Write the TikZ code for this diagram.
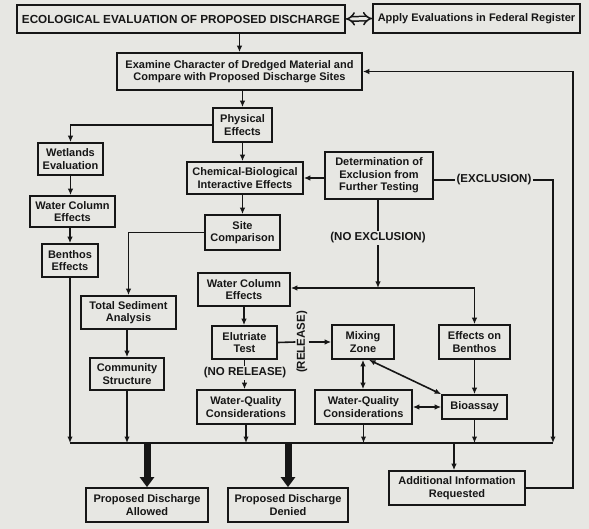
\documentclass[tikz,border=0pt]{standalone}
\usepackage{fontspec}
\setmainfont{Liberation Sans}
\usetikzlibrary{arrows.meta,calc}
\definecolor{bg}{HTML}{E7E7E3}
\definecolor{ink}{HTML}{161616}
\tikzset{
  box/.style={draw=ink, line width=1.7pt, inner sep=0pt, align=center,
    font=\fontsize{11}{12.5}\selectfont\bfseries, text=ink},
  lbl/.style={inner sep=1.5pt, font=\fontsize{11.5}{12}\selectfont\bfseries, text=ink},
  ln/.style={draw=ink, line width=1.6pt},
  arr/.style={ln, -{Latex[length=6.5pt,width=5.5pt]}},
  darr/.style={ln, {Latex[length=6.5pt,width=5.5pt]}-{Latex[length=6.5pt,width=5.5pt]}},
  thick arr/.style={draw=ink, line width=7pt, -{Triangle[length=10pt,width=14pt]}}
}
\newcommand{\bx}[6]{\node[box, minimum width=#4pt, minimum height=#5pt] (#1) at (#2,#3) {#6};}
\begin{document}
\begin{tikzpicture}[x=1pt,y=-1pt]
\fill[bg] (0,0) rectangle (589,529);
\useasboundingbox (0,0) rectangle (589,529);

\node[box, minimum width=328pt, minimum height=28pt, font=\fontsize{11.7}{13}\selectfont\bfseries] (eco) at (181,19) {ECOLOGICAL EVALUATION OF PROPOSED DISCHARGE};
\bx{apply}{476.5}{18.5}{207}{29}{Apply Evaluations in Federal Register}
\bx{exam}{239.5}{71.5}{245}{37}{Examine Character of Dredged Material and\\Compare with Proposed Discharge Sites}
\bx{phys}{242.5}{125}{59}{34}{Physical\\Effects}
\bx{wet}{70.5}{159}{65}{32}{Wetlands\\Evaluation}
\bx{wcl}{72.5}{211.5}{85}{31}{Water Column\\Effects}
\bx{ben}{70}{260.5}{56}{33}{Benthos\\Effects}
\bx{chem}{245}{178}{116}{32}{Chemical-Biological\\Interactive Effects}
\bx{det}{379}{175.5}{108}{47}{Determination of\\Exclusion from\\Further Testing}
\bx{site}{242.5}{232.5}{75}{35}{Site\\Comparison}
\bx{tsa}{128.5}{312.5}{95}{33}{Total Sediment\\Analysis}
\bx{com}{127}{374}{74}{32}{Community\\Structure}
\bx{wcm}{244}{289.5}{92}{33}{Water Column\\Effects}
\bx{elu}{244.5}{342.5}{65}{33}{Elutriate\\Test}
\bx{wqa}{246}{407}{98}{34}{Water-Quality\\Considerations}
\bx{mix}{363}{342}{62}{34}{Mixing\\Zone}
\bx{eob}{474.5}{342}{71}{34}{Effects on\\Benthos}
\bx{wqb}{363.5}{407}{97}{34}{Water-Quality\\Considerations}
\bx{bio}{474.5}{407}{65}{24}{Bioassay}
\bx{pda}{147}{505}{122}{34}{Proposed Discharge\\Allowed}
\bx{pdd}{288}{505}{120}{34}{Proposed Discharge\\Denied}
\bx{air}{457}{488}{136}{34}{Additional Information\\Requested}

\node[lbl] (noex) at (378,238) {(NO EXCLUSION)};
\node[lbl] (excl) at (494,180) {(EXCLUSION)};
\node[lbl] (nrel) at (245,373) {(NO RELEASE)};
\node[lbl, rotate=90, inner sep=1pt] (rel) at (302,342) {(RELEASE)};

\coordinate (busL) at (70,443);
\coordinate (busR) at (553,443);
\coordinate (rc) at (573,0);
\coordinate (jn) at (378,288);

% double hollow arrow
\draw[draw=ink, line width=1.5pt, double=bg, double distance=3pt, {Implies}-{Implies}] (eco.east) -- (apply.west);

\draw[arr] (exam.north |- eco.south) -- (exam.north);
\draw[arr] (phys.north |- exam.south) -- (phys.north);
\draw[arr] (phys.west) -| (wet.north);
\draw[arr] (phys.south) -- (phys.south |- chem.north);
\draw[arr] (site.north |- chem.south) -- (site.north);
\draw[arr] (det.west |- chem.east) -- (chem.east);
\draw[arr] (wet.south) -- (wet.south |- wcl.north);
\draw[arr] (ben.north |- wcl.south) -- (ben.north);
\draw[arr] (ben.south) -- (ben.south |- busL);
\draw[arr] (site.west) -| (tsa.north);
\draw[arr] (tsa.south -| com.north) -- (com.north);
\draw[arr] (com.south) -- (com.south |- busL);

\draw[ln] (det.south -| jn) -- (noex.north -| jn);
\draw[arr] (noex.south -| jn) -- (jn);
\draw[arr] (jn) -- (wcm.east |- jn);
\draw[arr] (jn) -| (eob.north);
\draw[ln] (det.east |- excl) -- (excl.west);
\draw[arr] (excl.east) -| (busR);

\draw[arr] (wcm.south) -- (wcm.south |- elu.north);
\draw[ln] (elu.south) -- (nrel.north -| elu.south);
\draw[arr] (nrel.south -| elu.south) -- (elu.south |- wqa.north);
\draw[ln] (elu.east) -- (rel.north);
\draw[arr] (rel.south) -- (mix.west);

\draw[darr] (mix.south) -- (mix.south |- wqb.north);
\draw[darr] ($(mix.south)+(6,0)$) -- (bio.north west);
\draw[darr] (wqb.east) -- (bio.west);
\draw[arr] (eob.south) -- (bio.north);

\draw[arr] (wqa.south) -- (wqa.south |- busL);
\draw[arr] (wqb.south) -- (wqb.south |- busL);
\draw[arr] (bio.south) -- (bio.south |- busL);
\draw[ln] (busL) -- (busR);

\draw[thick arr] (pda.north |- busL) -- (pda.north);
\draw[thick arr] (pdd.north |- busL) -- (pdd.north);
\draw[arr] ($(air.north |- busL)+(-3,0)$) -- ($(air.north)+(-3,0)$);
\draw[arr] (air.east) -| (rc |- exam.east) -- (exam.east);
\end{tikzpicture}
\end{document}
